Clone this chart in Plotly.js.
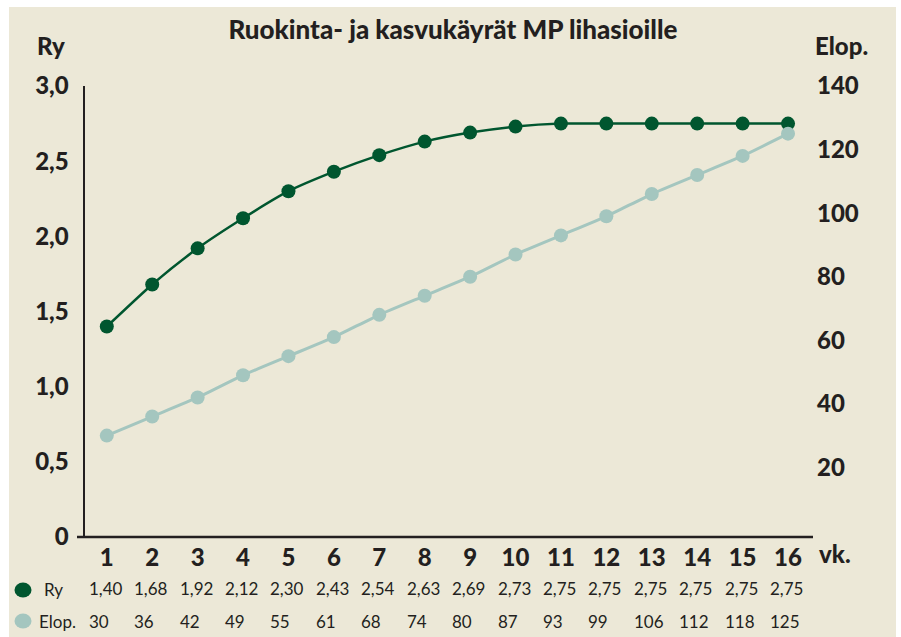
<!DOCTYPE html>
<html>
<head>
<meta charset="utf-8">
<script src="https://cdn.plot.ly/plotly-3.0.1.min.js"></script>
<style>
  html, body { margin: 0; padding: 0; background: #ffffff; }
  #plot { width: 901px; height: 637px; }
</style>
</head>
<body>
<div id="plot"></div>
<script>
const weeks = [1, 2, 3, 4, 5, 6, 7, 8, 9, 10, 11, 12, 13, 14, 15, 16];
const ryValues = [1.40, 1.68, 1.92, 2.12, 2.30, 2.43, 2.54, 2.63, 2.69, 2.73, 2.75, 2.75, 2.75, 2.75, 2.75, 2.75];
const elopValues = [30, 36, 42, 49, 55, 61, 68, 74, 80, 87, 93, 99, 106, 112, 118, 125];
const ryTicks = [0, 0.5, 1.0, 1.5, 2.0, 2.5, 3.0];
const ryTickText = ["0", "0,5", "1,0", "1,5", "2,0", "2,5", "3,0"];
const elopTicks = [20, 40, 60, 80, 100, 120, 140];

const darkGreen = "#00562f";
const lightGreen = "#a4c6bf";
const ink = "#231f20";
const bg = "#ece8d7";
const fontFam = "Lato, 'Open Sans', sans-serif";
const heavy = { family: fontFam, size: 24, color: ink, weight: 900 };

// plot area in pixels: x 85..813, y 86..537
const W = 901, H = 637;
const L = 85, R = 813, T = 86, B = 537;
const px = (x) => (x - L) / (R - L);
const py = (y) => (B - y) / (B - T);

const fmt = (v) => v.toFixed(2).replace(".", ",");

const traces = [
    {
        x: weeks,
        y: elopValues,
        yaxis: "y2",
        type: "scatter",
        mode: "lines+markers",
        line: { color: lightGreen, width: 3, shape: "spline", smoothing: 0.5 },
        marker: { color: lightGreen, size: 14 },
        hoverinfo: "skip"
    },
    {
        x: weeks,
        y: ryValues,
        type: "scatter",
        mode: "lines+markers",
        line: { color: darkGreen, width: 2.5, shape: "spline", smoothing: 0.6 },
        marker: { color: darkGreen, size: 14 },
        hoverinfo: "skip"
    }
];

const annotations = [];
weeks.forEach((w, i) => {
    annotations.push({
        x: w, xref: "x", y: py(588), yref: "paper",
        text: fmt(ryValues[i]), showarrow: false,
        xanchor: "left", xshift: -20, yanchor: "middle",
        font: { family: fontFam, size: 17, color: ink }
    });
    annotations.push({
        x: w, xref: "x", y: py(621), yref: "paper",
        text: String(elopValues[i]), showarrow: false,
        xanchor: "left", xshift: -20, yanchor: "middle",
        font: { family: fontFam, size: 17, color: ink }
    });
});
annotations.push(
    { x: px(42), xref: "paper", y: py(589), yref: "paper", text: "Ry", showarrow: false,
      xanchor: "left", yanchor: "middle", font: { family: fontFam, size: 17, color: ink } },
    { x: px(37), xref: "paper", y: py(621), yref: "paper", text: "Elop.", showarrow: false,
      xanchor: "left", yanchor: "middle", font: { family: fontFam, size: 17, color: ink } },
    { x: px(35), xref: "paper", y: py(45), yref: "paper", text: "Ry", showarrow: false,
      xanchor: "left", yanchor: "middle", font: heavy },
    { x: px(813), xref: "paper", y: py(45), yref: "paper", text: "Elop.", showarrow: false,
      xanchor: "left", yanchor: "middle", font: heavy },
    { x: px(817), xref: "paper", y: py(553), yref: "paper", text: "vk.", showarrow: false,
      xanchor: "left", yanchor: "middle", font: heavy }
);

const shapes = [
    { type: "rect", xref: "paper", yref: "paper", layer: "below",
      x0: px(9), x1: px(896), y0: py(H + 2), y1: py(7),
      fillcolor: bg, line: { width: 0 } },
    { type: "line", xref: "paper", yref: "paper",
      x0: px(77), x1: px(R), y0: 0, y1: 0, line: { color: ink, width: 2.5 } },
    { type: "circle", xref: "paper", yref: "paper", xsizemode: "pixel", ysizemode: "pixel",
      xanchor: px(23), yanchor: py(590), x0: -8.5, x1: 8.5, y0: -7.5, y1: 7.5,
      fillcolor: darkGreen, line: { width: 0 } },
    { type: "circle", xref: "paper", yref: "paper", xsizemode: "pixel", ysizemode: "pixel",
      xanchor: px(23), yanchor: py(621), x0: -8.5, x1: 8.5, y0: -7.5, y1: 7.5,
      fillcolor: lightGreen, line: { width: 0 } }
];

const layout = {
    width: W,
    height: H,
    margin: { l: L, r: W - R, t: T, b: H - B, pad: 0 },
    paper_bgcolor: "#ffffff",
    plot_bgcolor: "rgba(0,0,0,0)",
    showlegend: false,
    title: {
        text: "Ruokinta- ja kasvukäyrät MP lihasioille",
        x: 453 / W, xanchor: "center",
        y: 1 - 30 / H, yanchor: "middle", yref: "container",
        font: { family: fontFam, size: 26, color: ink, weight: 900 }
    },
    xaxis: {
        range: [0.52, 16.55],
        tickvals: weeks,
        ticktext: weeks.map(String),
        showgrid: false,
        zeroline: false,
        showline: false,
        ticks: "",
        ticklabelstandoff: 4,
        tickfont: heavy
    },
    yaxis: {
        range: [0, 3.0],
        tickvals: ryTicks,
        ticktext: ryTickText,
        showgrid: false,
        zeroline: false,
        showline: true,
        linecolor: ink,
        linewidth: 2.5,
        ticks: "",
        ticklabelstandoff: 9,
        tickfont: heavy
    },
    yaxis2: {
        overlaying: "y",
        side: "right",
        range: [-1.9, 140],
        tickvals: elopTicks,
        ticktext: elopTicks.map(String),
        showgrid: false,
        zeroline: false,
        showline: false,
        ticks: "",
        ticklabelstandoff: 3,
        tickfont: heavy
    },
    annotations: annotations,
    shapes: shapes
};

Plotly.newPlot("plot", traces, layout, { displayModeBar: false, staticPlot: true });
</script>
</body>
</html>
